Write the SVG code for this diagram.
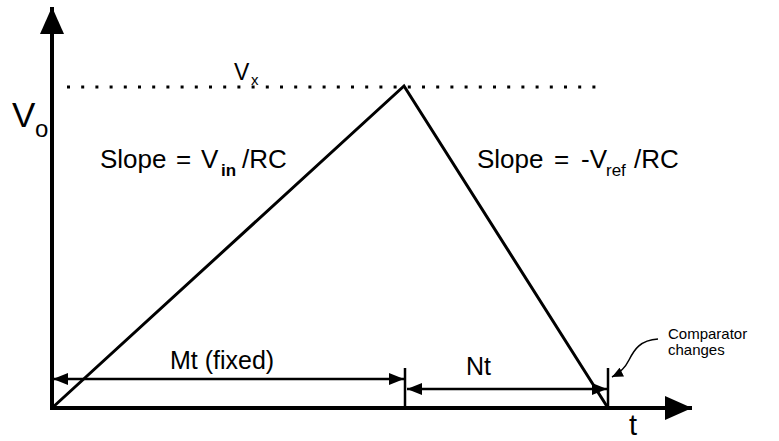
<svg xmlns="http://www.w3.org/2000/svg" width="779" height="441" viewBox="0 0 779 441">
<style>
text{font-family:"Liberation Sans",Arial,sans-serif;fill:#000}
.ax{stroke:#000;stroke-width:4;fill:none}
.ln{stroke:#000;stroke-width:3;fill:none}
.dim{stroke:#000;stroke-width:2.5;fill:none}
</style>
<defs>
<marker id="dimArrow" markerUnits="userSpaceOnUse" markerWidth="16" markerHeight="14" refX="15" refY="7" orient="auto-start-reverse" viewBox="0 0 16 14">
<path d="M0,1 L15,7 L0,13 z" fill="#000"/>
</marker>
<marker id="axArrow" markerUnits="userSpaceOnUse" markerWidth="28" markerHeight="24" refX="27" refY="12" orient="auto" viewBox="0 0 28 24">
<path d="M0,0 L27,12 L0,24 z" fill="#000"/>
</marker>
<marker id="smallArrow" markerUnits="userSpaceOnUse" markerWidth="12" markerHeight="10" refX="11" refY="5" orient="auto" viewBox="0 0 12 10">
<path d="M0,0 L11,5 L0,10 z" fill="#000"/>
</marker>
</defs>
<g id="axes">
<line class="ax" x1="52" y1="410" x2="52" y2="7" marker-end="url(#axArrow)"/>
<line class="ax" x1="50" y1="408" x2="692" y2="408" marker-end="url(#axArrow)"/>
</g>
<g id="labels-axes">
<text x="12" y="127" font-size="35">V</text>
<text x="35" y="137" font-size="24">o</text>
<text x="629" y="435" font-size="29">t</text>
</g>
<g id="vx-level">
<line x1="67" y1="87" x2="596" y2="87" stroke="#000" stroke-width="3" stroke-dasharray="3 11.2"/>
<text x="234" y="80" font-size="23">V</text>
<text x="251" y="85" font-size="15">x</text>
</g>
<g id="ramp">
<path class="ln" d="M52,408 L404,86 L608,408"/>
</g>
<g id="slope-up">
<text x="100" y="168" font-size="26">Slope</text>
<text x="176" y="168" font-size="26">=</text>
<text x="201" y="168" font-size="26">V</text>
<text x="221" y="176" font-size="17" font-weight="bold">in</text>
<text x="242" y="168" font-size="26">/RC</text>
</g>
<g id="slope-down">
<text x="477" y="168" font-size="26">Slope</text>
<text x="554" y="168" font-size="26">=</text>
<text x="581" y="168" font-size="26">-V</text>
<text x="606" y="176" font-size="17">ref</text>
<text x="634" y="168" font-size="26">/RC</text>
</g>
<g id="comparator">
<text x="668" y="339" font-size="15">Comparator</text>
<text x="668" y="355" font-size="15">changes</text>
</g>
<g id="connectors">
<line class="dim" x1="405" y1="368" x2="405" y2="408"/>
<line class="dim" x1="608" y1="368" x2="608" y2="408"/>
<line class="dim" x1="53" y1="379" x2="404" y2="379" marker-start="url(#dimArrow)" marker-end="url(#dimArrow)"/>
<line class="dim" x1="407" y1="389" x2="607" y2="389" marker-start="url(#dimArrow)" marker-end="url(#dimArrow)"/>
<path d="M658,339 C640,340 634,350 629,360 C624,370 618,374 612,377" stroke="#000" stroke-width="1.5" fill="none" marker-end="url(#smallArrow)"/>
</g>
<g id="dim-labels">
<text x="170" y="369" font-size="25">Mt (fixed)</text>
<text x="466" y="375" font-size="25">Nt</text>
</g>
</svg>
